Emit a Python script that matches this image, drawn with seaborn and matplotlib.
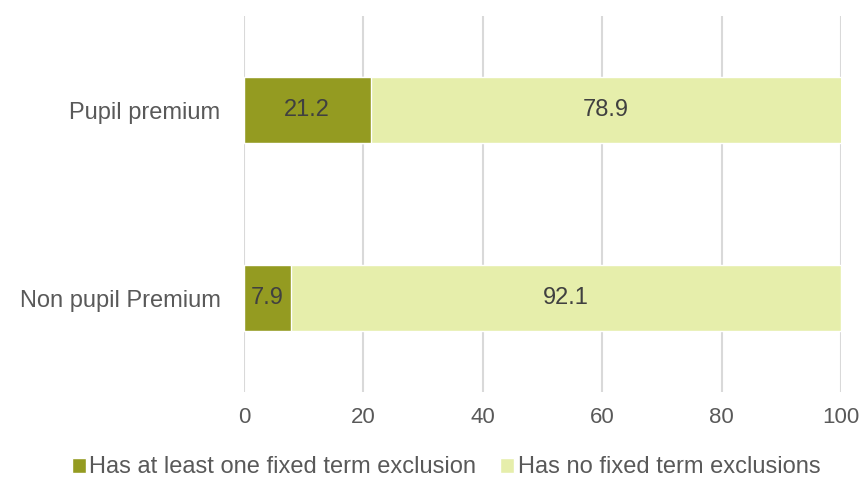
import pandas as pd
import matplotlib.pyplot as plt
import seaborn as sns

groups = ["Pupil premium", "Non pupil Premium"]
has_exclusion = [21.2, 7.9]
no_exclusion = [78.9, 92.1]
series_names = ["Has at least one fixed term exclusion", "Has no fixed term exclusions"]
colors = ["#949b21", "#e6eeab"]

sns.set_theme(style="white")
plt.rcParams["font.family"] = ["Liberation Sans", "DejaVu Sans"]

df = pd.DataFrame({"group": groups, "excl": has_exclusion, "none": no_exclusion})
df["total"] = df["excl"] + df["none"]

fig = plt.figure(figsize=(8.61, 4.82), dpi=100)
ax = fig.add_axes([0.2834, 0.1867, 0.6934, 0.78])

# stacked: draw total first, then the first segment on top
sns.barplot(data=df, x="total", y="group", color=colors[1], width=0.35,
            orient="h", ax=ax, saturation=1, label=series_names[1])
sns.barplot(data=df, x="excl", y="group", color=colors[0], width=0.35,
            orient="h", ax=ax, saturation=1, label=series_names[0])

for i, (a, b) in enumerate(zip(has_exclusion, no_exclusion)):
    ax.text(a / 2, i, f"{a}", ha="center", va="center", fontsize=17, color="#404040")
    ax.text(a + b / 2, i, f"{b}", ha="center", va="center", fontsize=17, color="#404040")

ax.set_xlim(0, 100)
ax.set_ylim(1.5, -0.5)
ax.set_xticks([0, 20, 40, 60, 80, 100])
ax.xaxis.grid(True, color="#d9d9d9", linewidth=1.5)
ax.set_axisbelow(True)
for s in ax.spines.values():
    s.set_visible(False)
ax.set_xlabel("")
ax.set_ylabel("")
ax.tick_params(axis="x", length=0, labelsize=16, colors="#595959", pad=11)
ax.tick_params(axis="y", length=0, labelsize=17, colors="#595959", pad=17)

handles, labels = ax.get_legend_handles_labels()
order = [labels.index(n) for n in series_names]
leg = fig.legend([handles[k] for k in order], series_names, loc="lower center",
                 bbox_to_anchor=(0.518, 0.0), ncol=2, frameon=False, fontsize=17,
                 borderaxespad=0.0, borderpad=0.15,
                 handlelength=0.6, handleheight=0.6, handletextpad=0.15, columnspacing=1.0)
for t in leg.get_texts():
    t.set_color("#595959")
if ax.get_legend():
    ax.get_legend().remove()

fig.savefig("out.png", dpi=100)
